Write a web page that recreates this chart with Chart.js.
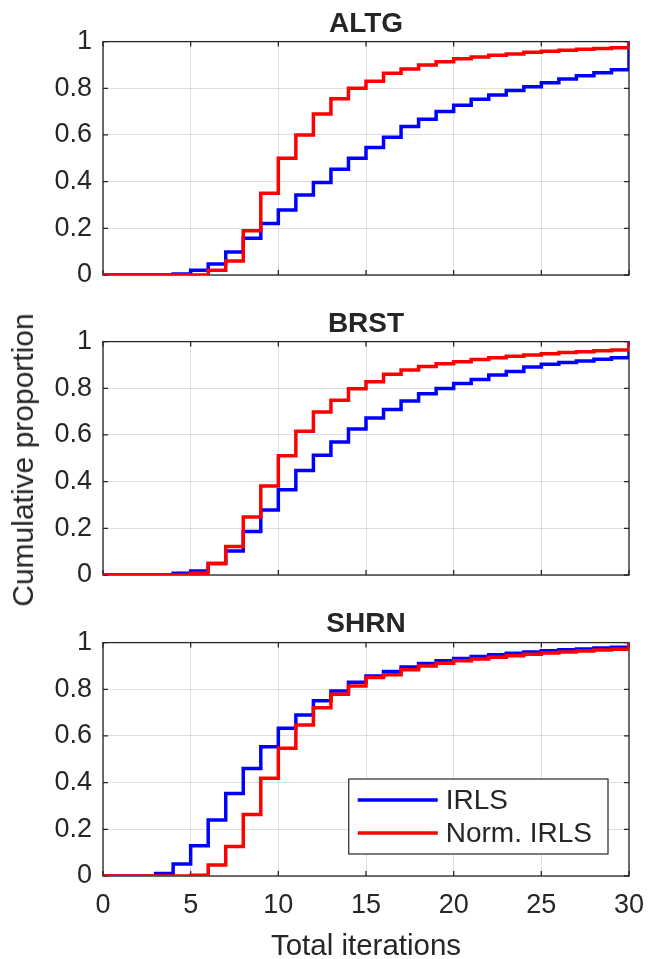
<!DOCTYPE html>
<html>
<head>
<meta charset="utf-8">
<script src="https://cdn.jsdelivr.net/npm/chart.js@4.4.1/dist/chart.umd.min.js"></script>
<style>
    html, body { margin: 0; padding: 0; background: #fff; }
    body { width: 648px; height: 959px; position: relative; overflow: hidden; }
    canvas { position: absolute; left: 0; }
    #yTitle {
        position: absolute; left: 23px; top: 460px;
        transform: translate(-50%, -50%) rotate(-90deg);
        font: 30px 'Liberation Sans', Arial, sans-serif; color: #262626; white-space: nowrap;
    }
</style>
</head>
<body>
<canvas id="altgChart" width="648" height="300" style="top:0"></canvas>
<canvas id="brstChart" width="648" height="300" style="top:300px"></canvas>
<canvas id="shrnChart" width="648" height="359" style="top:600px"></canvas>
<div id="yTitle">Cumulative proportion</div>
<script>
// Data: empirical CDF value at each iteration count 0..30
const iterations = [0, 1, 2, 3, 4, 5, 6, 7, 8, 9, 10, 11, 12, 13, 14, 15, 16, 17, 18, 19, 20, 21, 22, 23, 24, 25, 26, 27, 28, 29, 30];
const seriesNames = ['IRLS', 'Norm. IRLS'];
const panelTitles = ['ALTG', 'BRST', 'SHRN'];
const xTicks = [0, 5, 10, 15, 20, 25, 30];
const yTicks = [0, 0.2, 0.4, 0.6, 0.8, 1];

const altgIrls = [0, 0, 0, 0, 0.004, 0.02, 0.047, 0.099, 0.157, 0.221, 0.279, 0.343, 0.396, 0.453, 0.5, 0.546,
    0.59, 0.636, 0.667, 0.7, 0.727, 0.753, 0.771, 0.79, 0.807, 0.824, 0.84, 0.854, 0.867, 0.879, 1];
const altgNorm = [0, 0, 0, 0, 0, 0, 0.02, 0.06, 0.19, 0.35, 0.5, 0.6, 0.69, 0.755, 0.8, 0.83,
    0.864, 0.883, 0.9, 0.914, 0.926, 0.934, 0.941, 0.947, 0.954, 0.959, 0.963, 0.967, 0.97, 0.974, 1];

const brstIrls = [0, 0, 0, 0, 0.007, 0.017, 0.049, 0.103, 0.186, 0.278, 0.365, 0.448, 0.513, 0.57, 0.626, 0.673,
    0.709, 0.745, 0.777, 0.799, 0.821, 0.838, 0.857, 0.872, 0.891, 0.903, 0.91, 0.917, 0.924, 0.931, 1];
const brstNorm = [0, 0, 0, 0, 0, 0.007, 0.049, 0.122, 0.248, 0.381, 0.511, 0.616, 0.698, 0.749, 0.798, 0.828,
    0.86, 0.878, 0.893, 0.905, 0.914, 0.923, 0.931, 0.937, 0.943, 0.948, 0.953, 0.957, 0.961, 0.964, 1];

const shrnIrls = [0, 0, 0, 0.011, 0.051, 0.13, 0.24, 0.354, 0.461, 0.554, 0.633, 0.69, 0.751, 0.793, 0.83, 0.857,
    0.876, 0.895, 0.91, 0.922, 0.932, 0.94, 0.948, 0.954, 0.96, 0.965, 0.969, 0.973, 0.977, 0.98, 1];
const shrnNorm = [0, 0, 0, 0, 0, 0.003, 0.047, 0.126, 0.264, 0.419, 0.547, 0.647, 0.721, 0.779, 0.814, 0.85,
    0.862, 0.884, 0.9, 0.912, 0.922, 0.93, 0.937, 0.944, 0.95, 0.955, 0.96, 0.964, 0.968, 0.971, 1];

const axisColor = '#262626';
Chart.defaults.font.family = "'Liberation Sans', Arial, sans-serif";
Chart.defaults.color = axisColor;

// box around the axes with inward tick marks (matlab style)
const framePlugin = {
    id: 'frame',
    beforeDatasetsDraw(chart) {
        const { ctx, chartArea: a, scales: { x, y } } = chart;
        ctx.save();
        ctx.strokeStyle = axisColor;
        ctx.lineWidth = 1.3;
        ctx.strokeRect(a.left, a.top, a.right - a.left, a.bottom - a.top);
        ctx.beginPath();
        x.ticks.forEach(t => {
            const px = x.getPixelForValue(t.value);
            ctx.moveTo(px, a.bottom); ctx.lineTo(px, a.bottom - 5);
            ctx.moveTo(px, a.top); ctx.lineTo(px, a.top + 5);
        });
        y.ticks.forEach(t => {
            const py = y.getPixelForValue(t.value);
            ctx.moveTo(a.left, py); ctx.lineTo(a.left + 5, py);
            ctx.moveTo(a.right, py); ctx.lineTo(a.right - 5, py);
        });
        ctx.stroke();
        ctx.restore();
    }
};

// legend box inside the plot, lower right
const boxLegendPlugin = {
    id: 'boxLegend',
    afterDraw(chart, args, opts) {
        if (!opts.show) return;
        const { ctx, chartArea: a } = chart;
        const sets = chart.data.datasets;
        ctx.save();
        ctx.font = "28px 'Liberation Sans', Arial, sans-serif";
        const textW = Math.max(...sets.map(d => ctx.measureText(d.label).width));
        const w = 9 + 80 + 8 + textW + 16, rowH = 33, h = 21 * 2 + rowH * (sets.length - 1);
        const left = a.right - 21 - w, top = a.bottom - 22 - h;
        ctx.fillStyle = '#fff';
        ctx.fillRect(left, top, w, h);
        ctx.strokeStyle = axisColor;
        ctx.lineWidth = 1.2;
        ctx.strokeRect(left, top, w, h);
        sets.forEach((d, i) => {
            const cy = top + 21 + i * rowH;
            ctx.strokeStyle = d.borderColor;
            ctx.lineWidth = 3.5;
            ctx.beginPath();
            ctx.moveTo(left + 9, cy); ctx.lineTo(left + 89, cy);
            ctx.stroke();
            ctx.fillStyle = axisColor;
            ctx.textBaseline = 'middle';
            ctx.fillText(d.label, left + 97, cy + 1);
        });
        ctx.restore();
    }
};

function makePanel(id, title, irls, norm, isBottom) {
    const ctx = document.getElementById(id).getContext('2d');
    return new Chart(ctx, {
        type: 'line',
        data: {
            labels: iterations,
            datasets: [{
                label: seriesNames[0],
                data: iterations.map((x, i) => ({ x: x, y: irls[i] })),
                borderColor: '#0000ff',
                borderWidth: 3.5,
                stepped: true,
                pointRadius: 0,
                order: 2
            }, {
                label: seriesNames[1],
                data: iterations.map((x, i) => ({ x: x, y: norm[i] })),
                borderColor: '#ff0000',
                borderWidth: 3.5,
                stepped: true,
                pointRadius: 0,
                order: 1
            }]
        },
        options: {
            responsive: false,
            animation: false,
            layout: { padding: { left: 0, right: 19, top: 0, bottom: isBottom ? 0 : 25 } },
            plugins: {
                legend: { display: false },
                tooltip: { enabled: false },
                title: {
                    display: true,
                    fullSize: false,
                    text: title,
                    color: axisColor,
                    font: { size: 28, weight: 'bold', lineHeight: 1.2 },
                    padding: { top: 7, bottom: isBottom ? 2 : 1 }
                },
                boxLegend: { show: isBottom }
            },
            scales: {
                x: {
                    type: 'linear',
                    min: 0,
                    max: 30,
                    afterBuildTicks: s => { s.ticks = xTicks.map(v => ({ value: v })); },
                    afterFit: s => { s.height = isBottom ? 83 : 0; s.paddingLeft = 0; s.paddingRight = 0; },
                    grid: { color: 'rgba(38,38,38,0.15)', drawTicks: false },
                    border: { display: false },
                    ticks: { display: isBottom, padding: 13, font: { size: 27 }, maxRotation: 0 },
                    title: {
                        display: isBottom,
                        text: 'Total iterations',
                        font: { size: 29.5, lineHeight: 0.8 },
                        padding: 0
                    }
                },
                y: {
                    min: 0,
                    max: 1,
                    afterBuildTicks: s => { s.ticks = yTicks.map(v => ({ value: v })); },
                    afterFit: s => { s.width = 103; s.paddingTop = 0; s.paddingBottom = 0; },
                    grid: { color: 'rgba(38,38,38,0.15)', drawTicks: false },
                    border: { display: false },
                    ticks: { padding: 11, font: { size: 27 }, callback: v => String(+v.toFixed(1)) }
                }
            }
        },
        plugins: [framePlugin, boxLegendPlugin]
    });
}

makePanel('altgChart', panelTitles[0], altgIrls, altgNorm, false);
makePanel('brstChart', panelTitles[1], brstIrls, brstNorm, false);
makePanel('shrnChart', panelTitles[2], shrnIrls, shrnNorm, true);
</script>
</body>
</html>
